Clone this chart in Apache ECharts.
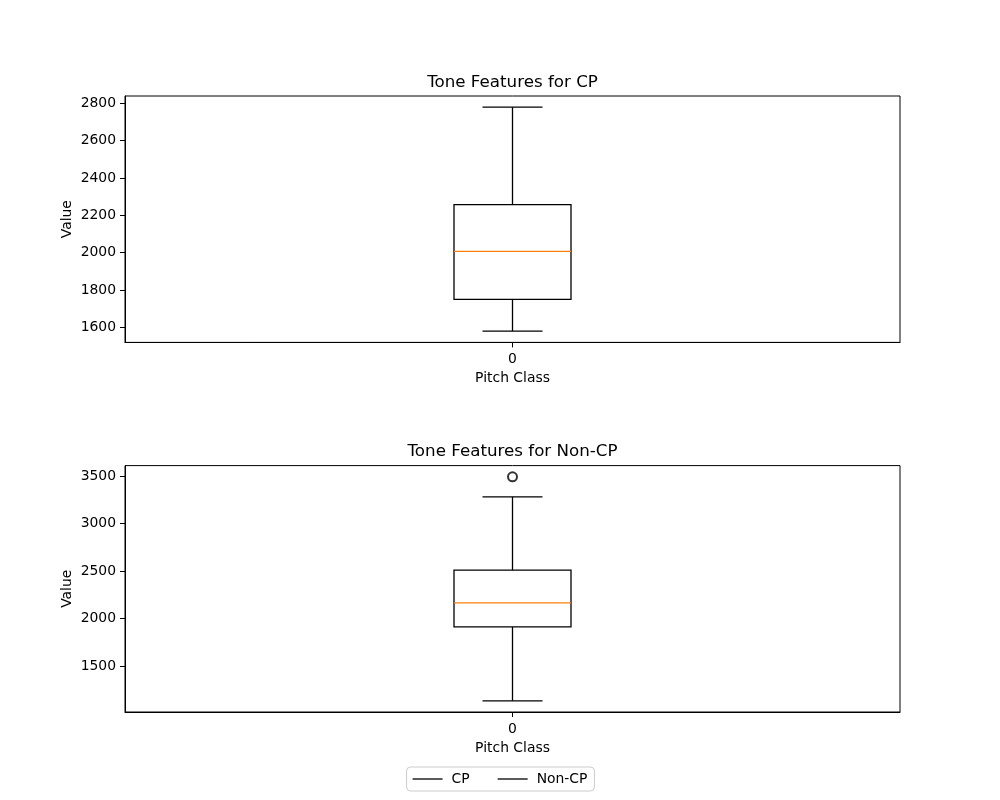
<!DOCTYPE html>
<html>
<head>
<meta charset="utf-8">
<script src="https://cdn.jsdelivr.net/npm/echarts@6/dist/echarts.min.js"></script>
<style>html,body{margin:0;padding:0;background:#fff}#c{width:1000px;height:800px}</style>
</head>
<body>
<div id="c"></div>
<script>
// ---- data ----
const categories = ['0'];
// [min whisker, Q1, median, Q3, max whisker]
const cpStats = [1579, 1750, 2007, 2257, 2779];
const nonCpStats = [1135, 1914, 2167, 2511, 3283];
const nonCpOutliers = [3494];
const cpTicks = [1600, 1800, 2000, 2200, 2400, 2600, 2800];
const nonCpTicks = [1500, 2000, 2500, 3000, 3500];
const cpRange = [1519, 2839];
const nonCpRange = [1017, 3612];

const FONT = 'DejaVu Sans';
const BOX_W = 117, CAP_W = 60, LW = 1.3;

function renderBox(params, api) {
  const x = api.value(0);
  const p = [1,2,3,4,5].map(i => api.coord([x, api.value(i)]));
  const cx = p[0][0];
  const ln = (x1,y1,x2,y2,color) => ({type:'line', shape:{x1,y1,x2,y2}, style:{stroke:color||'#000', lineWidth:LW}});
  return {type:'group', children:[
    ln(cx, p[0][1], cx, p[1][1]),
    ln(cx, p[3][1], cx, p[4][1]),
    ln(cx-CAP_W/2, p[0][1], cx+CAP_W/2, p[0][1]),
    ln(cx-CAP_W/2, p[4][1], cx+CAP_W/2, p[4][1]),
    {type:'rect', shape:{x:cx-BOX_W/2, y:p[3][1], width:BOX_W, height:p[1][1]-p[3][1]}, style:{fill:'none', stroke:'#000', lineWidth:LW}},
    ln(cx-BOX_W/2, p[2][1], cx+BOX_W/2, p[2][1], '#ff7f0e')
  ]};
}

function xAxis(gi) {
  return {
    type:'category', gridIndex:gi, data:categories, boundaryGap:true,
    name:'Pitch Class', nameLocation:'middle', nameGap:29,
    nameTextStyle:{fontFamily:FONT, fontSize:13.9, color:'#000'},
    axisLine:{show:true, lineStyle:{color:'#000', width:1}},
    axisTick:{show:true, alignWithLabel:true, length:5, lineStyle:{color:'#000'}},
    axisLabel:{fontFamily:FONT, fontSize:13.9, color:'#000', margin:10},
    splitLine:{show:false}
  };
}
function yAxis(gi, range, ticks) {
  return {
    type:'value', gridIndex:gi, min:range[0], max:range[1],
    name:'Value', nameLocation:'middle', nameGap:51, nameMoveOverlap:false,
    nameTextStyle:{fontFamily:FONT, fontSize:13.9, color:'#000'},
    axisLine:{show:true, lineStyle:{color:'#000', width:1}},
    axisTick:{show:true, length:5, lineStyle:{color:'#000'}, customValues:ticks},
    axisLabel:{fontFamily:FONT, fontSize:13.9, color:'#000', margin:9, customValues:ticks,
               formatter: v => String(v)},
    splitLine:{show:false}
  };
}

const chart = echarts.init(document.getElementById('c'), null, {renderer:'canvas'});
chart.setOption({
  animation:false,
  backgroundColor:'#fff',
  title:[
    {text:'Tone Features for CP', left:512.5, top:74, textAlign:'center', padding:0,
     textStyle:{fontFamily:FONT, fontSize:16.7, fontWeight:'normal', color:'#000'}},
    {text:'Tone Features for Non-CP', left:512.5, top:443, textAlign:'center', padding:0,
     textStyle:{fontFamily:FONT, fontSize:16.7, fontWeight:'normal', color:'#000'}}
  ],
  legend:{
    data:['CP','Non-CP'], left:'center', top:767,
    padding:[5,7,5,6], itemGap:28, itemWidth:30, itemHeight:1.3, icon:'rect',
    borderColor:'#cccccc', borderWidth:1, borderRadius:4,
    textStyle:{fontFamily:FONT, fontSize:13.9, color:'#000', padding:[0,0,0,4]}
  },
  grid:[
    {left:125, width:775, top:96, height:246.4, show:true, borderColor:'#000', borderWidth:1, backgroundColor:'transparent'},
    {left:125, width:775, top:465.6, height:246.4, show:true, borderColor:'#000', borderWidth:1, backgroundColor:'transparent'}
  ],
  xAxis:[xAxis(0), xAxis(1)],
  yAxis:[yAxis(0, cpRange, cpTicks), yAxis(1, nonCpRange, nonCpTicks)],
  series:[
    {name:'CP', type:'custom', xAxisIndex:0, yAxisIndex:0, itemStyle:{color:'#000'},
     encode:{x:0, y:[1,2,3,4,5]}, data:[[0].concat(cpStats)], renderItem:renderBox},
    {name:'Non-CP', type:'custom', xAxisIndex:1, yAxisIndex:1, itemStyle:{color:'#000'},
     encode:{x:0, y:[1,2,3,4,5]}, data:[[0].concat(nonCpStats)], renderItem:renderBox},
    {name:'Non-CP outliers', type:'scatter', xAxisIndex:1, yAxisIndex:1, symbol:'emptyCircle', symbolSize:9,
     itemStyle:{color:'#000', borderColor:'#000', borderWidth:1.1},
     data:nonCpOutliers.map(v => [0, v])}
  ]
});
</script>
</body>
</html>
